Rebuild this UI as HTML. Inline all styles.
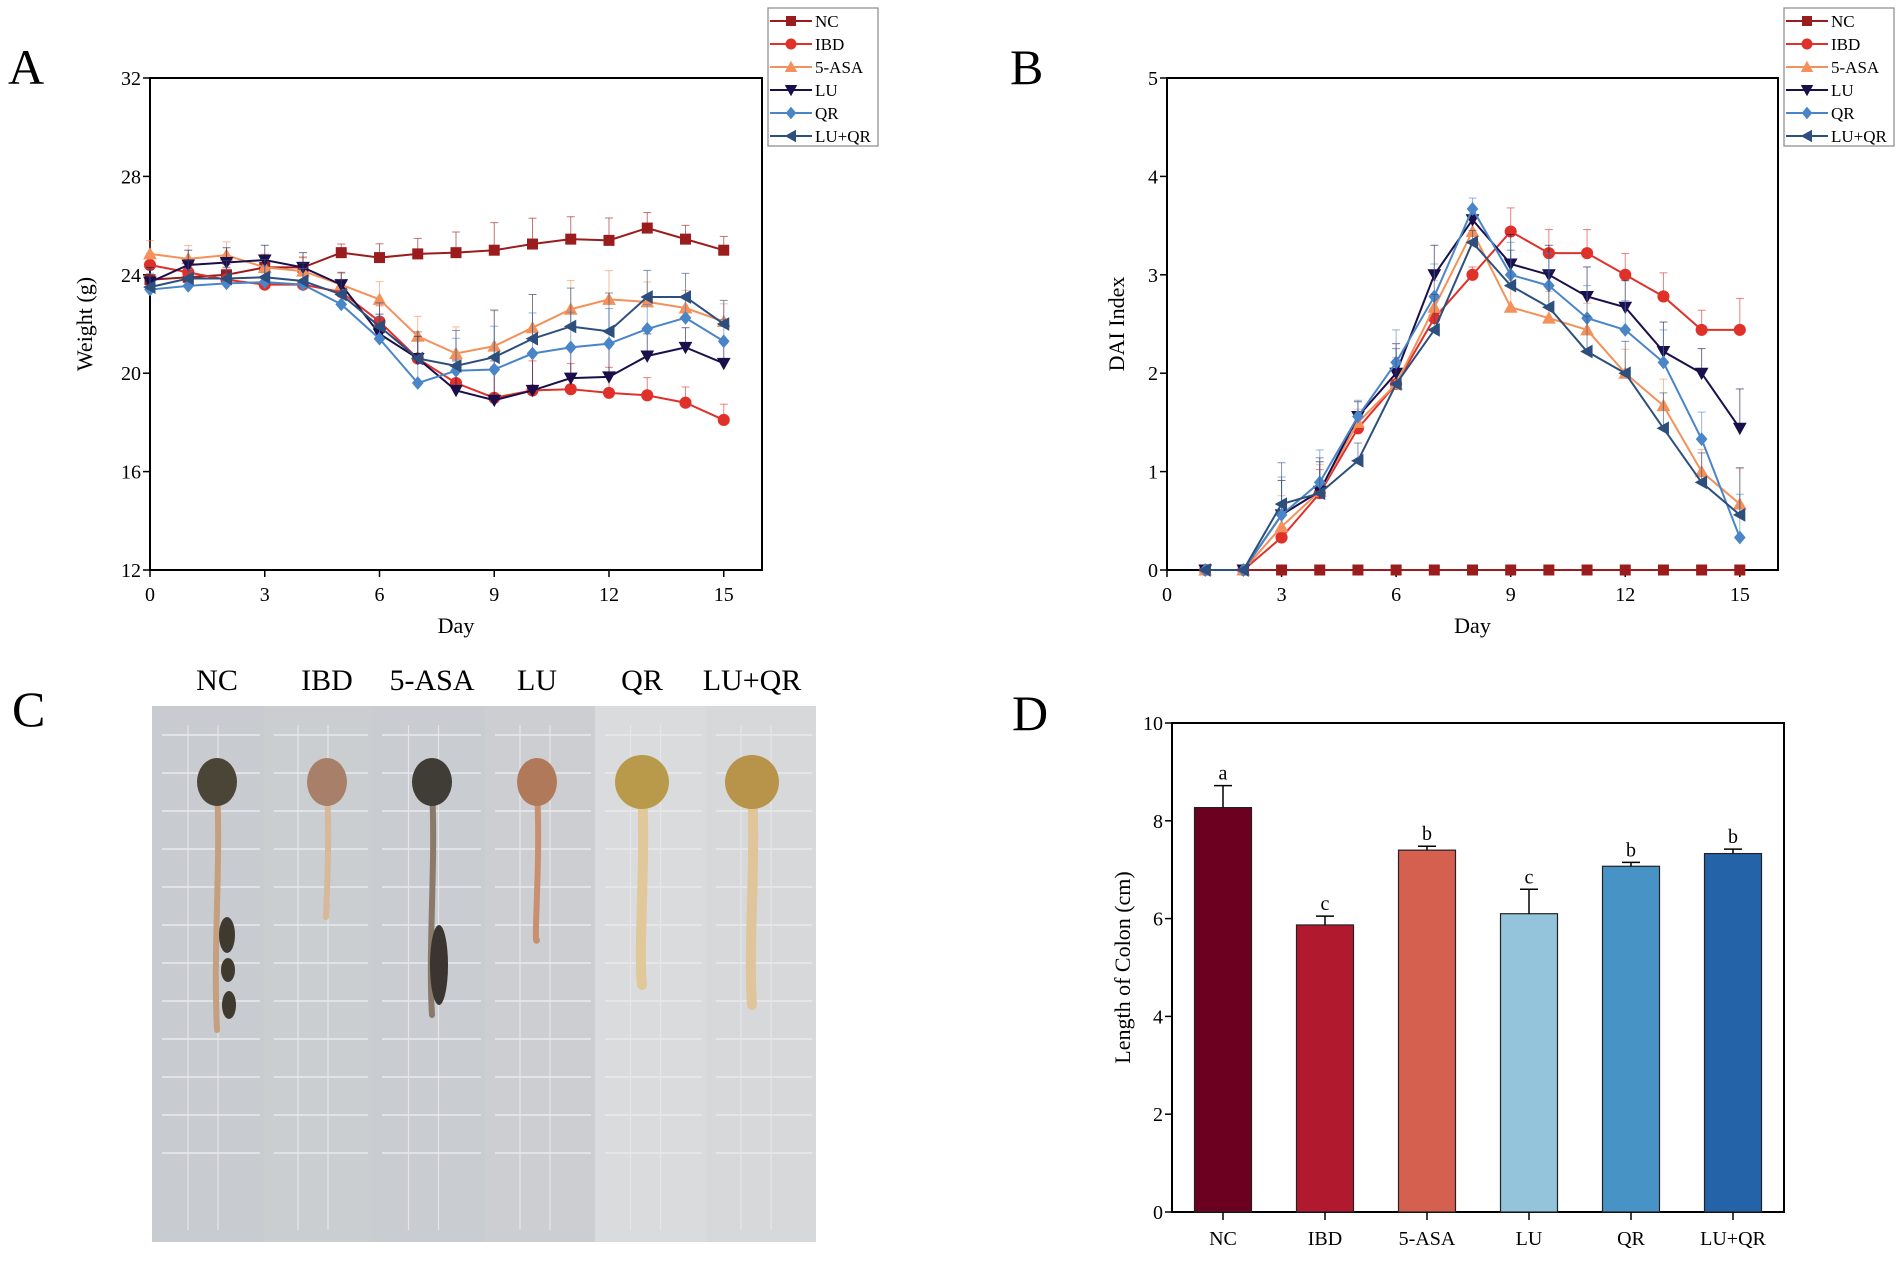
<!DOCTYPE html>
<html><head><meta charset="utf-8">
<style>
html,body{margin:0;padding:0;background:#fff;}
body{width:1902px;height:1257px;position:relative;overflow:hidden;font-family:"Liberation Serif",serif;}
svg text{font-family:"Liberation Serif",serif;}
</style></head>
<body>
<svg id="fig" width="1902" height="1257" viewBox="0 0 1902 1257" xmlns="http://www.w3.org/2000/svg">
<text x="8" y="84" font-size="50">A</text>
<text x="1010" y="84" font-size="50">B</text>
<text x="12" y="726" font-size="50">C</text>
<text x="1012" y="730" font-size="50">D</text>
<g id="gA"></g>
<g id="gB"></g>
<g id="gC"></g>
<g id="gD"></g>
</svg>
<script>
const NS="http://www.w3.org/2000/svg";
const seriesNames=["NC","IBD","5-ASA","LU","QR","LU+QR"];
const seriesColors=["#9b1c1c","#e0302a","#f4915a","#1a0f4a","#4a85c8","#2c4f7e"];
const markerTypes=["square","circle","up","down","diamond","left"];

// Panel A: weight
const daysA=[0,1,2,3,4,5,6,7,8,9,10,11,12,13,14,15];
const wNC=[23.8,23.9,24.0,24.3,24.3,24.9,24.7,24.85,24.9,25.0,25.25,25.45,25.4,25.9,25.45,25.0];
const wIBD=[24.4,24.1,23.8,23.6,23.6,23.3,22.1,20.6,19.6,19.0,19.3,19.35,19.2,19.1,18.8,18.1];
const wASA=[24.85,24.65,24.8,24.3,24.15,23.6,23.0,21.5,20.8,21.1,21.85,22.6,23.0,22.9,22.65,22.1];
const wLU=[23.7,24.4,24.5,24.6,24.3,23.6,21.6,20.6,19.3,18.9,19.3,19.8,19.85,20.7,21.05,20.4];
const wQR=[23.4,23.55,23.65,23.7,23.6,22.8,21.4,19.6,20.1,20.15,20.8,21.05,21.2,21.8,22.25,21.3];
const wLUQR=[23.5,23.85,23.85,23.9,23.75,23.2,21.9,20.6,20.3,20.65,21.4,21.9,21.7,23.1,23.1,22.0];
const wErr=[0.6,0.6,0.6,0.6,0.6,0.5,0.8,0.9,1.2,1.6,1.5,1.3,1.3,0.9,0.8,0.8];
const xTicksA=[0,3,6,9,12,15];
const yTicksA=[12,16,20,24,28,32];

// Panel B: DAI
const daysB=[1,2,3,4,5,6,7,8,9,10,11,12,13,14,15];
const dNC=[0,0,0,0,0,0,0,0,0,0,0,0,0,0,0];
const dIBD=[0,0,0.33,0.78,1.44,1.89,2.56,3.0,3.44,3.22,3.22,3.0,2.78,2.44,2.44];
const dASA=[0,0,0.44,0.8,1.5,1.89,2.67,3.44,2.67,2.56,2.44,2.0,1.67,1.0,0.67];
const dLU=[0,0,0.56,0.8,1.56,2.0,3.0,3.56,3.11,3.0,2.78,2.67,2.22,2.0,1.44];
const dQR=[0,0,0.56,0.89,1.56,2.11,2.78,3.67,3.0,2.89,2.56,2.44,2.11,1.33,0.33];
const dLUQR=[0,0,0.67,0.78,1.11,1.89,2.44,3.33,2.89,2.67,2.22,2.0,1.44,0.89,0.56];
const dErr=[0,0,0.35,0.3,0.15,0.3,0.3,0.1,0.3,0.3,0.3,0.27,0.3,0.25,0.4];
const xTicksB=[0,3,6,9,12,15];
const yTicksB=[0,1,2,3,4,5];

// Panel D: colon length
const groupsD=["NC","IBD","5-ASA","LU","QR","LU+QR"];
const lenD=[8.27,5.87,7.4,6.1,7.07,7.33];
const lenErr=[0.45,0.18,0.08,0.5,0.08,0.09];
const lenLetters=["a","c","b","c","b","b"];
const barColors=["#6b0020","#b0192e","#d66050","#93c4dc","#4893c6","#2563a8"];
const yTicksD=[0,2,4,6,8,10];

function mk(tag,attrs,parent){const e=document.createElementNS(NS,tag);for(const k in attrs)e.setAttribute(k,attrs[k]);if(parent)parent.appendChild(e);return e;}

function marker(g,type,x,y,r,color){
  let e;
  if(type==="square") e=mk("rect",{x:x-r,y:y-r,width:2*r,height:2*r,fill:color},g);
  else if(type==="circle") e=mk("circle",{cx:x,cy:y,r:r*1.1,fill:color},g);
  else {
    let p;
    const s=r*1.25;
    if(type==="up") p=[[x,y-s],[x+s,y+s*0.8],[x-s,y+s*0.8]];
    else if(type==="down") p=[[x,y+s],[x+s,y-s*0.8],[x-s,y-s*0.8]];
    else if(type==="diamond") p=[[x,y-s],[x+s*0.85,y],[x,y+s],[x-s*0.85,y]];
    else p=[[x-s,y],[x+s*0.8,y-s],[x+s*0.8,y+s]];
    e=mk("polygon",{points:p.map(a=>a.join(",")).join(" "),fill:color},g);
  }
  return e;
}

function frame(g,L,R,T,B,xt,xs,yt,ys,xlab,ylab,ylabX){
  mk("rect",{x:L,y:T,width:R-L,height:B-T,fill:"none",stroke:"#000","stroke-width":2},g);
  xt.forEach(v=>{const x=xs(v);mk("line",{x1:x,y1:B,x2:x,y2:B+7,stroke:"#000","stroke-width":1.5},g);
    const t=mk("text",{x:x,y:B+31,"font-size":20,"text-anchor":"middle"},g);t.textContent=v;
    
    });
  yt.forEach(v=>{const y=ys(v);mk("line",{x1:L-7,y1:y,x2:L,y2:y,stroke:"#000","stroke-width":1.5},g);
    const t=mk("text",{x:L-9,y:y+7,"font-size":20,"text-anchor":"end"},g);t.textContent=v;
    
    });
  if(xlab){const t=mk("text",{x:(L+R)/2+(xlab.dx||0),y:B+63,"font-size":22,"text-anchor":"middle"},g);t.textContent=xlab.t;
    
    }
  const cy=(T+B)/2;
  const t=mk("text",{x:ylabX,y:cy,"font-size":22,"text-anchor":"middle",transform:`rotate(-90 ${ylabX} ${cy})`},g);t.textContent=ylab;
  
  
}

function legend(g,x,y){
  mk("rect",{x:x,y:y,width:110,height:138,fill:"#fff",stroke:"#888","stroke-width":1.2},g);
  seriesNames.forEach((n,i)=>{
    const cy=y+13+i*23;
    const it=mk("g",{},g);
    
    
    mk("line",{x1:x+2,y1:cy,x2:x+44,y2:cy,stroke:seriesColors[i],"stroke-width":2},it);
    marker(it,markerTypes[i],x+23,cy,5,seriesColors[i]);
    const t=mk("text",{x:x+47,y:cy+6,"font-size":17},it);t.textContent=n;
  });
}

function lineChart(g,L,R,T,B,xmin,xmax,ymin,ymax,xs_,seriesArr,errArr,xt,yt,xlab,ylab,ylabX){
  const xs=v=>L+(v-xmin)/(xmax-xmin)*(R-L);
  const ys=v=>B-(v-ymin)/(ymax-ymin)*(B-T);
  frame(g,L,R,T,B,xt,xs,yt,ys,xlab,ylab,ylabX);
  seriesArr.forEach((arr,si)=>{
    const sg=mk("g",{},g);
    
    
    const c=seriesColors[si];
    arr.forEach((v,i)=>{
      const e=errArr[i]*(0.7+0.1*si);
      if(e>0&&si>0||e>0&&ymin>0){
        const x=xs(xs_[i]);
        mk("line",{x1:x,y1:ys(v),x2:x,y2:ys(v+e),stroke:c,"stroke-width":1,opacity:0.6},sg);
        mk("line",{x1:x-4,y1:ys(v+e),x2:x+4,y2:ys(v+e),stroke:c,"stroke-width":1,opacity:0.6},sg);
      }
    });
    const pts=arr.map((v,i)=>xs(xs_[i])+","+ys(v)).join(" ");
    mk("polyline",{points:pts,fill:"none",stroke:c,"stroke-width":2},sg);
    arr.forEach((v,i)=>{const m=marker(sg,markerTypes[si],xs(xs_[i]),ys(v),5.5,c);
      
      });
  });
}

const gA=document.getElementById("gA");
lineChart(gA,150,762,78,570,0,16,12,32,daysA,[wNC,wIBD,wASA,wLU,wQR,wLUQR],wErr,xTicksA,yTicksA,{t:"Day",dx:0},"Weight  (g)",92);
legend(gA,768,8);

const gB=document.getElementById("gB");
// draw NC first so it sits under others
lineChart(gB,1167,1778,78,570,0,16,0,5,daysB,[dNC,dIBD,dASA,dLU,dQR,dLUQR],dErr,xTicksB,yTicksB,{t:"Day",dx:0},"DAI Index",1124);
legend(gB,1784,8);

// Panel D
const gD=document.getElementById("gD");
(function(){
  const L=1172,R=1784,T=723,B=1212,ymin=0,ymax=10;
  const ys=v=>B-(v-ymin)/(ymax-ymin)*(B-T);
  const slot=(R-L)/groupsD.length;
  const cx=i=>L+slot*(i+0.5);
  mk("rect",{x:L,y:T,width:R-L,height:B-T,fill:"none",stroke:"#000","stroke-width":2},gD);
  yTicksD.forEach(v=>{const y=ys(v);mk("line",{x1:L-7,y1:y,x2:L,y2:y,stroke:"#000","stroke-width":1.5},gD);
    const t=mk("text",{x:L-9,y:y+7,"font-size":20,"text-anchor":"end"},gD);t.textContent=v;
    
    });
  groupsD.forEach((n,i)=>{
    const x=cx(i),w=57;
    const b=mk("rect",{x:x-w/2,y:ys(lenD[i]),width:w,height:B-ys(lenD[i]),fill:barColors[i],stroke:"#222","stroke-width":1.2},gD);
    
    
    const top=ys(lenD[i]+lenErr[i]);
    mk("line",{x1:x,y1:ys(lenD[i]),x2:x,y2:top,stroke:"#000","stroke-width":1.5},gD);
    mk("line",{x1:x-9,y1:top,x2:x+9,y2:top,stroke:"#000","stroke-width":1.5},gD);
    const lt=mk("text",{x:x,y:top-6,"font-size":20,"text-anchor":"middle"},gD);lt.textContent=lenLetters[i];
    
    
    mk("line",{x1:x,y1:B,x2:x,y2:B+8,stroke:"#000","stroke-width":1.5},gD);
    const t=mk("text",{x:x,y:B+33,"font-size":20,"text-anchor":"middle"},gD);t.textContent=n;
    
    
  });
  const cy=(T+B)/2;
  const t=mk("text",{x:1130,y:cy,"font-size":22,"text-anchor":"middle",transform:`rotate(-90 1130 ${cy})`},gD);t.textContent="Length of Colon (cm)";
  
  
})();

// Panel C photos (approximated)
const gC=document.getElementById("gC");
const stripX=[152,264,372,485,595,706,816];
const stripFill=["#c8cbcf","#cbced1","#c9ccd0","#ccced1","#d9dbdd","#d6d8da"];
const photoLabels=["NC","IBD","5-ASA","LU","QR","LU+QR"];
const labelX=[217,327,432,537,642,752];
const headColor=["#4a4536","#a8806a","#3f3d35","#b07a5a","#b89a4a","#b8934a"];
const tubeColor=["#c4a080","#d8b89a","#8a7a6a","#c89070","#e0c898","#e0c49a"];
const tubeEnd=[1030,905,1015,940,985,1005];
(function(){
  for(let i=0;i<6;i++){
    const x0=stripX[i],x1=stripX[i+1];
    const s=mk("rect",{x:x0,y:706,width:x1-x0,height:536,fill:stripFill[i]},gC);
    
    
    for(let k=0;k<12;k++){const y=735+k*38;mk("line",{x1:x0+10,y1:y,x2:x1-4,y2:y,stroke:"#e8eaec","stroke-width":1.5},gC);}
    mk("line",{x1:(x0+x1)/2-20,y1:725,x2:(x0+x1)/2-20,y2:1230,stroke:"#e4e6e8","stroke-width":1.2},gC);
    mk("line",{x1:(x0+x1)/2+10,y1:725,x2:(x0+x1)/2+10,y2:1230,stroke:"#e4e6e8","stroke-width":1.2},gC);
    const cx=labelX[i];
    mk("path",{d:`M${cx} 790 C ${cx+4} 860, ${cx-4} 950, ${cx} ${tubeEnd[i]}`,fill:"none",stroke:tubeColor[i],"stroke-width":i>=4?10:6,"stroke-linecap":"round"},gC);
    mk("ellipse",{cx:cx,cy:782,rx:i>=4?27:20,ry:i>=4?27:24,fill:headColor[i]},gC);
    const t=mk("text",{x:cx,y:690,"font-size":30,"text-anchor":"middle"},gC);t.textContent=photoLabels[i];
    
    
  }
  [[227,935,12,18],[228,970,10,12],[229,1005,10,14]].forEach(a=>mk("ellipse",{cx:a[0],cy:a[1],rx:a[2]/2+2,ry:a[3],fill:"#3f3a30"},gC));
  mk("ellipse",{cx:439,cy:965,rx:9,ry:40,fill:"#3a3530"},gC);
})();
</script>
</body></html>
